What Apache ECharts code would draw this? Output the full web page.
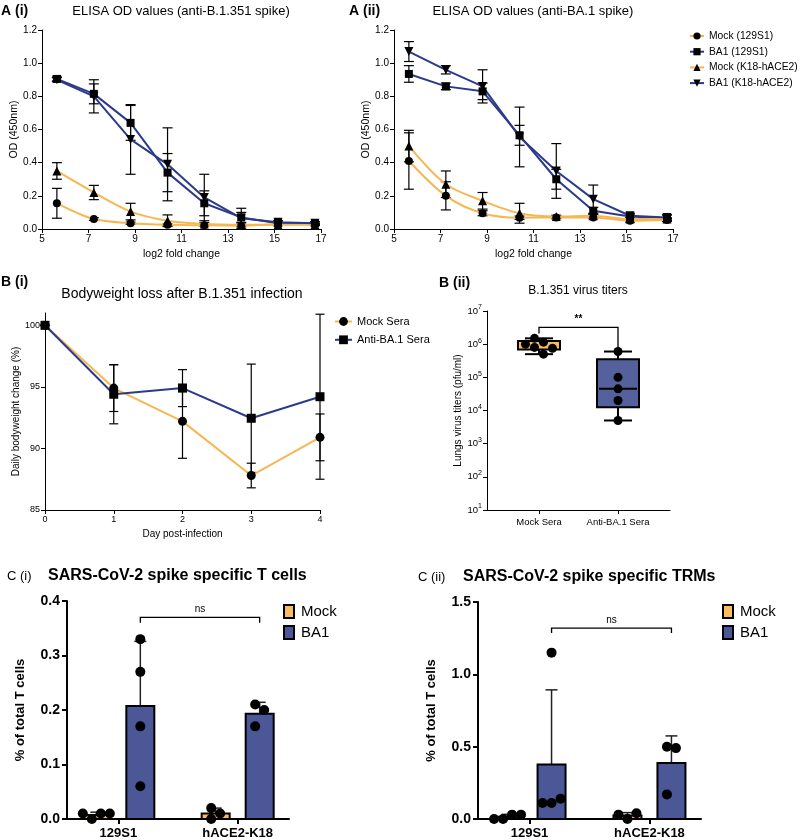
<!DOCTYPE html>
<html><head><meta charset="utf-8">
<script src="https://cdn.jsdelivr.net/npm/echarts@6/dist/echarts.min.js"></script>
<style>html,body{margin:0;padding:0;background:#fff}#c{width:799px;height:840px}</style>
</head><body><div id="c"></div><script>
// ================= DATA =================
// Panel A: ELISA OD vs log2 dilution
const dilutionLog2 = [5.64, 7.23, 8.81, 10.4, 11.98, 13.57, 15.15, 16.74];
const elisaNames = ['Mock (129S1)', 'BA1 (129S1)', 'Mock (K18-hACE2)', 'BA1 (K18-hACE2)'];
// A(i) anti-B.1.351 spike
const a1Mock129   = [0.155, 0.06, 0.035, 0.025, 0.022, 0.02, 0.028, 0.028];
const a1Mock129Sd = [0.09, 0.008, 0.006, 0.005, 0.004, 0.004, 0.004, 0.004];
const a1Ba1129    = [0.905, 0.815, 0.64, 0.34, 0.155, 0.07, 0.035, 0.035];
const a1Ba1129Sd  = [0.012, 0.06, 0.105, 0.115, 0.075, 0.03, 0.008, 0.008];
const a1MockK18   = [0.35, 0.22, 0.105, 0.05, 0.03, 0.025, 0.025, 0.025];
const a1MockK18Sd = [0.05, 0.043, 0.05, 0.035, 0.008, 0.005, 0.005, 0.005];
const a1Ba1K18    = [0.90, 0.80, 0.54, 0.39, 0.19, 0.065, 0.04, 0.035];
const a1Ba1K18Sd  = [0.012, 0.10, 0.21, 0.22, 0.14, 0.06, 0.01, 0.008];
// A(ii) anti-BA.1 spike
const a2Mock129   = [0.41, 0.20, 0.095, 0.068, 0.07, 0.07, 0.05, 0.055];
const a2Mock129Sd = [0.17, 0.085, 0.015, 0.01, 0.008, 0.008, 0.008, 0.008];
const a2Ba1129    = [0.935, 0.86, 0.83, 0.565, 0.30, 0.11, 0.075, 0.065];
const a2Ba1129Sd  = [0.05, 0.02, 0.05, 0.06, 0.06, 0.02, 0.015, 0.02];
const a2MockK18   = [0.50, 0.27, 0.17, 0.095, 0.075, 0.08, 0.06, 0.06];
const a2MockK18Sd = [0.095, 0.08, 0.05, 0.06, 0.008, 0.008, 0.008, 0.008];
const a2Ba1K18    = [1.07, 0.96, 0.86, 0.555, 0.35, 0.18, 0.08, 0.07];
const a2Ba1K18Sd  = [0.06, 0.025, 0.10, 0.18, 0.165, 0.085, 0.015, 0.015];

// Panel B(i): bodyweight
const days = [0, 1, 2, 3, 4];
const bwNames = ['Mock Sera', 'Anti-BA.1 Sera'];
const bwMock   = [100, 94.9, 92.2, 87.8, 90.9];
const bwMockSd = [0, 1.9, 3.0, 1.0, 1.9];
const bwAnti   = [100, 94.4, 94.9, 92.45, 94.2];
const bwAntiSd = [0, 2.4, 1.5, 4.4, 6.7];
const bwTicks  = [85, 90, 95, 100];

// Panel B(ii): lung virus titers
const titerGroups = ['Mock Sera', 'Anti-BA.1 Sera'];
const titerMock = [1.5e6, 1.15e6, 1.0e6, 8e5, 7.5e5, 5e5];
const titerAnti = [6e5, 1e5, 4.5e4, 2e4, 5e3];

// Panel C: T cells
const cGroups = ['129S1', 'hACE2-K18'];
const cNames = ['Mock', 'BA1'];
const tcMock129 = [0, 0.01, 0.01, 0.01];
const tcMockK18 = [0.02, 0, 0.01];
const tcBa1129  = [0.33, 0.27, 0.17, 0.06];
const tcBa1K18  = [0.21, 0.20, 0.17];
const trmMock129 = [0, 0.03, 0, 0.03];
const trmMockK18 = [0, 0.04, 0.03];
const trmBa1129  = [1.15, 0.11, 0.14, 0.11];
const trmBa1K18  = [0.50, 0.49, 0.17];

// ================= STYLE / LAYOUT =================
const FONT = '"Liberation Sans", Arial, Helvetica, sans-serif';
const ORANGE = '#F6B753';
const NAVY = '#2C3A8C';
const BAR_ORANGE = '#F8BD63';
const BAR_BLUE = '#4B5796';
const BOX_BLUE = '#55619C';
const DOWN_TRI = 'path://M0,0L10,0L5,9Z';
const GRIDS = [
  {left: 42, top: 30, width: 279, height: 199},
  {left: 394, top: 30, width: 279, height: 199},
  {left: 45, top: 313, width: 275, height: 197},
  {left: 487, top: 311, width: 183, height: 199},
  {left: 67, top: 601, width: 222, height: 221},
  {left: 478, top: 602, width: 223, height: 219}
];
const BAR_W = 28, BAR_GAP = 16, BAR_OFF = (BAR_W + BAR_GAP) / 2;

// ================= HELPERS =================
function mean(a) { return a.reduce((s, v) => s + v, 0) / a.length; }
function sd(a) { const m = mean(a); return Math.sqrt(a.reduce((s, v) => s + (v - m) * (v - m), 0) / (a.length - 1)); }
function quantile(sorted, p) {
  const pos = (sorted.length + 1) * p; const lo = Math.floor(pos), hi = Math.ceil(pos);
  const a = sorted[Math.max(0, Math.min(sorted.length - 1, lo - 1))];
  const b = sorted[Math.max(0, Math.min(sorted.length - 1, hi - 1))];
  return a + (b - a) * (pos - lo);
}
function swarm(values, pxPerUnit, tf, thr, step) {
  const ys = values.map(v => tf(v) * pxPerUnit);
  const offs = [];
  ys.forEach((y) => {
    for (let k = 0; k < 50; k++) {
      const cand = k === 0 ? 0 : (k % 2 ? 1 : -1) * Math.ceil(k / 2) * step;
      if (offs.every((o, j) => Math.hypot(o - cand, ys[j] - y) >= thr)) { offs.push(cand); break; }
    }
  });
  const shift = (Math.max(...offs) + Math.min(...offs)) / 2;
  return offs.map(o => o - shift);
}
function txt(text, x, y, font, align) {
  return {type: 'text', x: x, y: y, silent: true,
    style: {text: text, font: font, fill: '#000', textAlign: align || 'left', textVerticalAlign: 'middle',
            align: align || 'left', verticalAlign: 'middle'}};
}
function errRender(capHalf, lw) {
  return function (params, api) {
    const x = api.value(0), lo = api.value(1), hi = api.value(2);
    const pH = api.coord([x, hi]), pL = api.coord([x, lo]);
    const st = {stroke: '#000', lineWidth: lw};
    return {type: 'group', children: [
      {type: 'line', shape: {x1: pH[0], y1: pH[1], x2: pL[0], y2: pL[1]}, style: st},
      {type: 'line', shape: {x1: pH[0] - capHalf, y1: pH[1], x2: pH[0] + capHalf, y2: pH[1]}, style: st},
      {type: 'line', shape: {x1: pL[0] - capHalf, y1: pL[1], x2: pL[0] + capHalf, y2: pL[1]}, style: st}
    ]};
  };
}
function errSeries(gi, xs, m, s, capHalf) {
  return {type: 'custom', xAxisIndex: gi, yAxisIndex: gi, silent: true, z: 2,
    data: xs.map((x, i) => [x, m[i] - s[i], m[i] + s[i]]),
    encode: {x: 0, y: [1, 2]}, renderItem: errRender(capHalf, 1.2)};
}
function bracketSeries(gi, x1, x2, yTop, yL, yR, label, pxOff, font) {
  return {type: 'custom', xAxisIndex: gi, yAxisIndex: gi, silent: true, z: 6,
    data: [[x1, x2, yTop, yL, yR]], encode: {x: [0, 1], y: [2, 3, 4]},
    renderItem: function (p, api) {
      const a = api.coord([api.value(0), api.value(2)]), b = api.coord([api.value(1), api.value(2)]);
      const l = api.coord([api.value(0), api.value(3)]), r = api.coord([api.value(1), api.value(4)]);
      const xa = a[0] + pxOff, xb = b[0] + pxOff;
      return {type: 'group', children: [
        {type: 'polyline', shape: {points: [[xa, l[1]], [xa, a[1]], [xb, a[1]], [xb, r[1]]]},
          style: {stroke: '#000', lineWidth: 1.3, fill: null}},
        {type: 'text', style: {text: label, x: (xa + xb) / 2, y: a[1] - 3, font: font, fill: '#000',
          textAlign: 'center', textVerticalAlign: 'bottom', align: 'center', verticalAlign: 'bottom'}}
      ]};
    }};
}

// ================= SERIES =================
const series = [];
// --- A panels
function addElisa(gi, means, sds) {
  const symbols = ['circle', 'rect', 'triangle', DOWN_TRI];
  const colors = [ORANGE, NAVY, ORANGE, NAVY];
  const sizes = [8, 8, 9, 9];
  means.forEach((m, k) => {
    series.push(errSeries(gi, dilutionLog2, m, sds[k], 5));
    series.push({type: 'line', name: elisaNames[k], xAxisIndex: gi, yAxisIndex: gi, z: 3,
      data: dilutionLog2.map((x, i) => [x, m[i]]),
      symbol: symbols[k], symbolSize: sizes[k], smooth: k % 2 === 0 ? 0.3 : false,
      itemStyle: {color: '#000', opacity: 1}, lineStyle: {color: colors[k], width: 2},
      emphasis: {disabled: true}});
  });
}
addElisa(0, [a1Mock129, a1Ba1129, a1MockK18, a1Ba1K18], [a1Mock129Sd, a1Ba1129Sd, a1MockK18Sd, a1Ba1K18Sd]);
addElisa(1, [a2Mock129, a2Ba1129, a2MockK18, a2Ba1K18], [a2Mock129Sd, a2Ba1129Sd, a2MockK18Sd, a2Ba1K18Sd]);

// --- B(i)
[[bwMock, bwMockSd, 'circle', ORANGE], [bwAnti, bwAntiSd, 'rect', NAVY]].forEach((d, k) => {
  series.push(errSeries(2, days, d[0], d[1], 4.5));
  series.push({type: 'line', name: bwNames[k], xAxisIndex: 2, yAxisIndex: 2, z: 3,
    data: days.map((x, i) => [x, d[0][i]]), symbol: d[2], symbolSize: 9,
    itemStyle: {color: '#000', opacity: 1}, lineStyle: {color: d[3], width: 2}, emphasis: {disabled: true}});
});

// --- B(ii) box plot
const titerSets = [titerMock, titerAnti];
const boxFills = [BAR_ORANGE, BOX_BLUE];
series.push({type: 'custom', xAxisIndex: 3, yAxisIndex: 3, silent: true, z: 2,
  data: titerSets.map((arr, g) => {
    const s = arr.slice().sort((a, b) => a - b);
    return [g, s[0], quantile(s, 0.25), quantile(s, 0.5), quantile(s, 0.75), s[s.length - 1]];
  }),
  encode: {x: 0, y: [1, 2, 3, 4, 5]},
  renderItem: function (p, api) {
    const g = api.value(0);
    const pMin = api.coord([g, api.value(1)]), pQ1 = api.coord([g, api.value(2)]), pMed = api.coord([g, api.value(3)]),
          pQ3 = api.coord([g, api.value(4)]), pMax = api.coord([g, api.value(5)]);
    const cx = pMin[0], hw = 21, ch = 14, st = {stroke: '#000', lineWidth: 2};
    const medStyle = g === 0 ? {stroke: ORANGE, lineWidth: 2, lineDash: [5, 3]} : {stroke: '#000', lineWidth: 2};
    return {type: 'group', children: [
      {type: 'line', shape: {x1: cx, y1: pQ3[1], x2: cx, y2: pMax[1]}, style: st},
      {type: 'line', shape: {x1: cx - ch, y1: pMax[1], x2: cx + ch, y2: pMax[1]}, style: st},
      {type: 'line', shape: {x1: cx, y1: pQ1[1], x2: cx, y2: pMin[1]}, style: st},
      {type: 'line', shape: {x1: cx - ch, y1: pMin[1], x2: cx + ch, y2: pMin[1]}, style: st},
      {type: 'rect', shape: {x: cx - hw, y: pQ3[1], width: 2 * hw, height: pQ1[1] - pQ3[1]},
        style: {fill: boxFills[g], stroke: '#000', lineWidth: 2}},
      {type: 'line', shape: {x1: cx - hw + 2, y1: pMed[1], x2: cx + hw - 2, y2: pMed[1]}, style: medStyle}
    ]};
  }});
titerSets.forEach((arr, g) => {
  const offs = swarm(arr, GRIDS[3].height / 6, v => Math.log10(v), 9, 9);
  series.push({type: 'scatter', xAxisIndex: 3, yAxisIndex: 3, z: 4, silent: true, symbolSize: 9,
    itemStyle: {color: '#000', opacity: 1},
    data: arr.map((v, i) => ({value: [g, v], symbolOffset: [offs[i], 0]}))});
});
series.push(bracketSeries(3, 0, 1, 3.2e6, 2.1e6, 8e5, '**', 0, 'bold 10px ' + FONT));

// --- C panels
function addTcell(gi, groupsByName, yMax) {
  const fills = [BAR_ORANGE, BAR_BLUE];
  const pxPerUnit = GRIDS[gi].height / yMax;
  groupsByName.forEach((groups, k) => {
    const off = k === 0 ? -BAR_OFF : BAR_OFF;
    series.push({type: 'custom', name: cNames[k], xAxisIndex: gi, yAxisIndex: gi, z: 2, silent: true,
      itemStyle: {color: fills[k]},
      data: groups.map((pts, g) => [g, mean(pts), mean(pts) + sd(pts)]),
      encode: {x: 0, y: [1, 2]},
      renderItem: function (p, api) {
        const g = api.value(0);
        const p0 = api.coord([g, 0]), p1 = api.coord([g, api.value(1)]), pt = api.coord([g, api.value(2)]);
        const cx = p0[0] + off, es = {stroke: '#222', lineWidth: 1.5};
        return {type: 'group', children: [
          {type: 'line', shape: {x1: cx, y1: p1[1], x2: cx, y2: pt[1]}, style: es},
          {type: 'line', shape: {x1: cx - 6, y1: pt[1], x2: cx + 6, y2: pt[1]}, style: es},
          {type: 'rect', shape: {x: cx - BAR_W / 2, y: p1[1], width: BAR_W, height: p0[1] - p1[1]},
            style: {fill: fills[k], stroke: '#000', lineWidth: 2}}
        ]};
      }});
    groups.forEach((pts, g) => {
      const offs = swarm(pts, pxPerUnit, v => v, 9, 9);
      series.push({type: 'scatter', xAxisIndex: gi, yAxisIndex: gi, z: 4, silent: true, symbolSize: 10,
        itemStyle: {color: '#000', opacity: 1},
        data: pts.map((v, i) => ({value: [g, v], symbolOffset: [off + offs[i], 0]}))});
    });
  });
}
addTcell(4, [[tcMock129, tcMockK18], [tcBa1129, tcBa1K18]], 0.4);
addTcell(5, [[trmMock129, trmMockK18], [trmBa1129, trmBa1K18]], 1.5);
series.push(bracketSeries(4, 0, 1, 0.37, 0.36, 0.36, 'ns', BAR_OFF, '10px ' + FONT));
series.push(bracketSeries(5, 0, 1, 1.32, 1.285, 1.285, 'ns', BAR_OFF, '10px ' + FONT));

// ================= AXES =================
function axis(o, lw, fs, bold, margin) {
  const base = {
    axisLine: {show: true, onZero: false, lineStyle: {color: '#000', width: lw}},
    axisTick: {show: true, length: lw > 1.5 ? 5 : 4, lineStyle: {color: '#000', width: lw}},
    axisLabel: {color: '#000', fontSize: fs, fontFamily: FONT, fontWeight: bold ? 'bold' : 'normal', margin: margin},
    splitLine: {show: false},
    nameLocation: 'middle',
    nameTextStyle: {color: '#000', fontFamily: FONT, fontSize: fs + 0.5, fontWeight: bold ? 'bold' : 'normal'}
  };
  const r = Object.assign({}, base, o);
  if (o.axisLabel) r.axisLabel = Object.assign({}, base.axisLabel, o.axisLabel);
  if (o.axisTick) r.axisTick = Object.assign({}, base.axisTick, o.axisTick);
  if (o.nameTextStyle) r.nameTextStyle = Object.assign({}, base.nameTextStyle, o.nameTextStyle);
  return r;
}
const catFmt = arr => (v => (Number.isInteger(v) && arr[v] !== undefined) ? arr[v] : '');
const xAxes = [
  axis({gridIndex: 0, type: 'value', min: 5, max: 17, interval: 2, name: 'log2 fold change', nameGap: 20}, 1, 10, false, 5),
  axis({gridIndex: 1, type: 'value', min: 5, max: 17, interval: 2, name: 'log2 fold change', nameGap: 20}, 1, 10, false, 5),
  axis({gridIndex: 2, type: 'value', min: 0, max: 4, interval: 1, name: 'Day post-infection', nameGap: 19,
        nameTextStyle: {fontSize: 10}}, 1, 9, false, 5),
  axis({gridIndex: 3, type: 'value', min: -0.658, max: 1.658,
        axisLabel: {customValues: [0, 1], formatter: catFmt(titerGroups), fontSize: 9.5},
        axisTick: {customValues: [0, 1]}}, 1, 9.5, false, 7),
  axis({gridIndex: 4, type: 'value', min: -0.43, max: 1.43,
        axisLabel: {customValues: [0, 1], formatter: catFmt(cGroups)},
        axisTick: {customValues: [0, 1]}}, 2, 13, true, 8),
  axis({gridIndex: 5, type: 'value', min: -0.43, max: 1.43,
        axisLabel: {customValues: [0, 1], formatter: catFmt(cGroups)},
        axisTick: {customValues: [0, 1]}}, 2, 13, true, 8)
];
const yAxes = [
  axis({gridIndex: 0, type: 'value', min: 0, max: 1.2, interval: 0.2, name: 'OD (450nm)', nameGap: 22,
        axisLabel: {formatter: v => v.toFixed(1)}}, 1, 10, false, 5),
  axis({gridIndex: 1, type: 'value', min: 0, max: 1.2, interval: 0.2, name: 'OD (450nm)', nameGap: 22,
        axisLabel: {formatter: v => v.toFixed(1)}}, 1, 10, false, 5),
  axis({gridIndex: 2, type: 'value', min: 85, max: 101, name: 'Daily bodyweight change (%)', nameGap: 22,
        axisLabel: {customValues: bwTicks}, axisTick: {customValues: bwTicks}, nameTextStyle: {fontSize: 10}}, 1, 9, false, 5),
  axis({gridIndex: 3, type: 'log', logBase: 10, min: 10, max: 1e7, name: 'Lungs virus titers (pfu/ml)', nameGap: 22,
        nameTextStyle: {fontSize: 10},
        axisLabel: {formatter: v => '{b|10}{s|' + Math.round(Math.log10(v)) + '}',
          rich: {b: {fontSize: 9.5, lineHeight: 14, fontFamily: FONT, color: '#000'},
                 s: {fontSize: 7, lineHeight: 8, verticalAlign: 'top', fontFamily: FONT, color: '#000'}}}}, 1, 9.5, false, 5),
  axis({gridIndex: 4, type: 'value', min: 0, max: 0.4, interval: 0.1, name: '% of total T cells', nameGap: 40,
        axisLabel: {formatter: v => v.toFixed(1), fontSize: 14}, nameTextStyle: {fontSize: 13}}, 2, 14, true, 7),
  axis({gridIndex: 5, type: 'value', min: 0, max: 1.5, interval: 0.5, name: '% of total T cells', nameGap: 40,
        axisLabel: {formatter: v => v.toFixed(1), fontSize: 14}, nameTextStyle: {fontSize: 13}}, 2, 14, true, 7)
];

// ================= LEGENDS =================
const legends = [
  {orient: 'vertical', left: 689, top: 31, itemWidth: 14, itemHeight: 9, itemGap: 5.7, padding: 0,
   textStyle: {fontSize: 10.3, fontFamily: FONT, color: '#000'}, data: elisaNames, selectedMode: false},
  {orient: 'vertical', left: 334, top: 316, itemWidth: 17, itemHeight: 11, itemGap: 7.3, padding: 0,
   textStyle: {fontSize: 11, fontFamily: FONT, color: '#000'}, data: bwNames, selectedMode: false},
  {orient: 'vertical', left: 283, top: 604, itemWidth: 10, itemHeight: 13, itemGap: 6, padding: 0,
   textStyle: {fontSize: 15, fontFamily: FONT, color: '#000', padding: [0, 0, 0, 2]}, selectedMode: false,
   data: cNames.map((n, k) => ({name: n, icon: 'rect', itemStyle: {color: k ? BAR_BLUE : BAR_ORANGE, borderColor: '#000', borderWidth: 2}}))},
  {orient: 'vertical', left: 722, top: 604, itemWidth: 10, itemHeight: 13, itemGap: 6, padding: 0,
   textStyle: {fontSize: 15, fontFamily: FONT, color: '#000', padding: [0, 0, 0, 2]}, selectedMode: false,
   data: cNames.map((n, k) => ({name: n, icon: 'rect', itemStyle: {color: k ? BAR_BLUE : BAR_ORANGE, borderColor: '#000', borderWidth: 2}}))}
];

// ================= TEXT =================
const texts = [
  txt('A (i)', 1, 11, 'bold 14px ' + FONT),
  txt('ELISA OD values (anti-B.1.351 spike)', 181, 11, '13px ' + FONT, 'center'),
  txt('A (ii)', 349, 11, 'bold 14px ' + FONT),
  txt('ELISA OD values (anti-BA.1 spike)', 533, 11, '13px ' + FONT, 'center'),
  txt('B (i)', 1, 282, 'bold 14px ' + FONT),
  txt('Bodyweight loss after B.1.351 infection', 182, 294, '14px ' + FONT, 'center'),
  txt('B (ii)', 439, 283, 'bold 14px ' + FONT),
  txt('B.1.351 virus titers', 578, 291, '12px ' + FONT, 'center'),
  txt('C (i)', 7, 576, '13px ' + FONT),
  txt('SARS-CoV-2 spike specific T cells', 48, 576, 'bold 16px ' + FONT),
  txt('C (ii)', 418, 577, '13px ' + FONT),
  txt('SARS-CoV-2 spike specific TRMs', 463, 577, 'bold 16px ' + FONT)
];

const chart = echarts.init(document.getElementById('c'), null, {renderer: 'canvas'});
chart.setOption({
  animation: false,
  backgroundColor: '#fff',
  textStyle: {fontFamily: FONT},
  grid: GRIDS.map(g => Object.assign({containLabel: false}, g)),
  xAxis: xAxes,
  yAxis: yAxes,
  legend: legends,
  graphic: {elements: texts},
  series: series
});
</script></body></html>
